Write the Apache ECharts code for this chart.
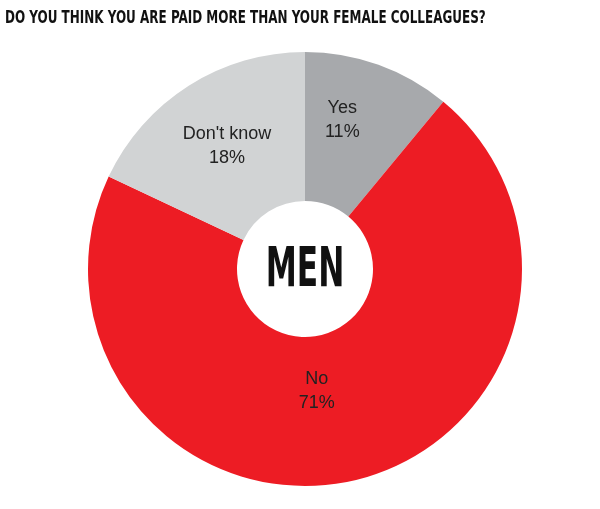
<!DOCTYPE html>
<html><head><meta charset="utf-8">
<script src="https://cdn.jsdelivr.net/npm/echarts@6/dist/echarts.min.js"></script>
<style>html,body{margin:0;padding:0;background:#fff}#c{width:600px;height:509px}</style>
</head><body><div id="c"></div>
<script>
const categories = ["Yes", "No", "Don't know"];
const values = [11, 71, 18];
const colors = ["#a7a9ac", "#ed1c24", "#d1d3d4"];
const titleText = 'DO YOU THINK YOU ARE PAID MORE THAN YOUR FEMALE COLLEAGUES?';
const centerText = 'MEN';
const labelOffsets = [[-12, -12], [-20, -20], [0, 0]];
const chart = echarts.init(document.getElementById('c'));
chart.setOption({
  animation: false,
  graphic: [{
    type: 'text', left: 5, top: 9, scaleX: 0.74,
    style: {text: titleText, font: 'bold 18px "DejaVu Sans Condensed", sans-serif', fill: '#111'}
  }, {
    type: 'text', x: 305, y: 271, scaleX: 0.62,
    style: {text: centerText, font: 'bold 56px "DejaVu Sans Condensed", sans-serif', fill: '#111', align: 'center', verticalAlign: 'middle'}
  }],
  series: [{
    type: 'pie',
    center: [305, 269],
    radius: [68, 217],
    startAngle: 90,
    clockwise: true,
    silent: true,
    itemStyle: {borderWidth: 0},
    label: {
      position: 'inside',
      formatter: p => p.name + '\n' + p.value + '%',
      fontFamily: '"Liberation Sans", Arial, sans-serif',
      fontSize: 18, lineHeight: 24, color: '#222'
    },
    labelLine: {show: false},
    data: categories.map((n, i) => ({name: n, value: values[i], itemStyle: {color: colors[i]}, label: {offset: labelOffsets[i]}}))
  }]
});
</script></body></html>
